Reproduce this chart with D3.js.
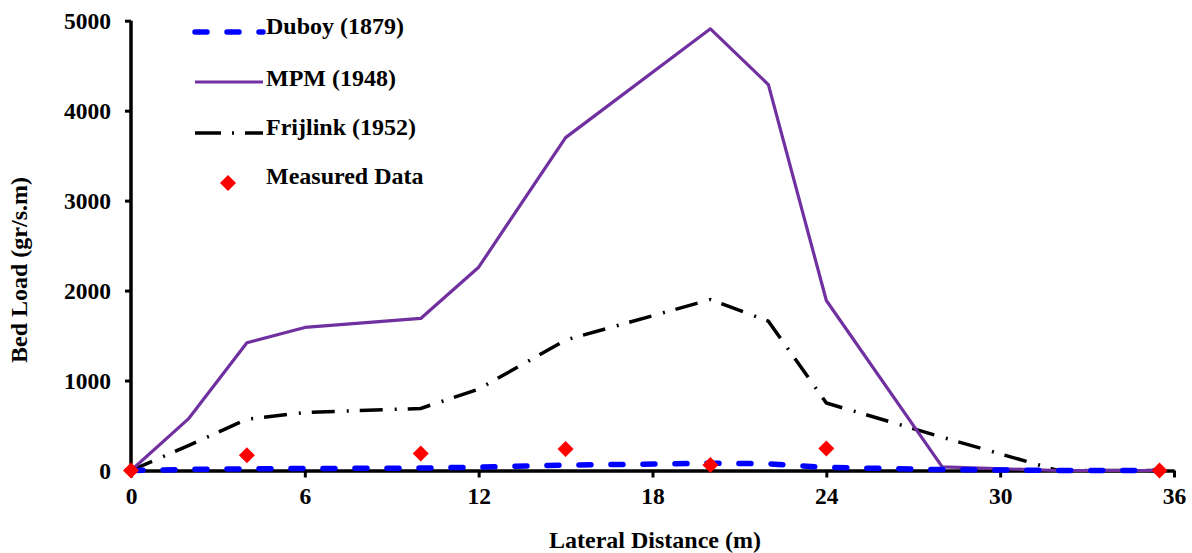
<!DOCTYPE html>
<html>
<head>
<meta charset="utf-8">
<script src="https://cdn.jsdelivr.net/npm/d3@7"></script>
<style>
  html, body { margin: 0; padding: 0; background: #fff; }
  svg { display: block; }
  text { font-family: "Liberation Serif", "Times New Roman", serif; font-weight: bold; fill: #000; }
</style>
</head>
<body>
<svg id="chart" width="1192" height="553"></svg>
<script>
// Lateral positions across the section (m)
const distance = [0, 2, 4, 6, 10, 12, 15, 20, 22, 24, 28, 32, 35.5];

// Computed bed load (gr/s.m) by each formula
const duboy    = [0, 12, 18, 22, 27, 37, 60, 80, 75, 35, 10, 0, 0];
const mpm      = [0, 580, 1420, 1590, 1690, 2260, 3700, 4910, 4290, 1890, 40, 0, 0];
const frijlink = [0, 280, 570, 645, 690, 905, 1450, 1900, 1660, 750, 370, 0, 0];

// Field measurements
const measuredX = [0, 4, 10, 15, 20, 24, 35.5];
const measuredY = [0, 170, 190, 240, 60, 245, 0];

// Axis ticks
const xTicks = [0, 6, 12, 18, 24, 30, 36];
const yTicks = [0, 1000, 2000, 3000, 4000, 5000];

const seriesNames = ["Duboy (1879)", "MPM (1948)", "Frijlink (1952)", "Measured Data"];

const svg = d3.select("#chart");
const x = d3.scaleLinear().domain([0, 36]).range([131, 1174]);
const y = d3.scaleLinear().domain([0, 5000]).range([470.5, 20.7]);

// Axes
const yAxis = svg.append("g")
  .attr("transform", `translate(${x(0)},0)`)
  .call(d3.axisLeft(y).tickValues(yTicks).tickFormat(d3.format("d"))
    .tickSizeInner(6).tickSizeOuter(0).tickPadding(14));
const xAxis = svg.append("g")
  .attr("transform", `translate(0,${y(0)})`)
  .call(d3.axisBottom(x).tickValues(xTicks).tickFormat(d3.format("d"))
    .tickSizeInner(7).tickSizeOuter(0).tickPadding(10));

[yAxis, xAxis].forEach(g => {
  g.select(".domain").attr("stroke", "#000").attr("stroke-width", 3.5);
  g.selectAll(".tick line").attr("stroke", "#000").attr("stroke-width", 3);
  g.selectAll(".tick text")
    .attr("font-family", "Liberation Serif, Times New Roman, serif")
    .attr("font-weight", "bold").attr("font-size", 23.5).attr("fill", "#000");
});
// y-axis line extended through the baseline corner
yAxis.select(".domain").attr("d", `M0,${y(5000)}V${y(0) + 2}`);

// Series lines
const line = vals => d3.line()
  .x((d, i) => x(distance[i]))
  .y(d => y(d))(vals);

svg.append("path").attr("d", line(frijlink))
  .attr("fill", "none").attr("stroke", "#000").attr("stroke-width", 3.5)
  .attr("stroke-dasharray", "23,12,2,11");

svg.append("path").attr("d", line(mpm))
  .attr("fill", "none").attr("stroke", "#7030A0").attr("stroke-width", 3.2)
  .attr("stroke-linejoin", "round");

svg.append("path").attr("d", line(duboy))
  .attr("fill", "none").attr("stroke", "#0000FF").attr("stroke-width", 5.5)
  .attr("stroke-linecap", "round").attr("stroke-dasharray", "12,20");

// Measured points as diamonds
const diamond = d3.symbol().type(d3.symbolSquare).size(128);
svg.append("g").selectAll("path")
  .data(measuredX.map((d, i) => [d, measuredY[i]]))
  .join("path")
  .attr("d", diamond)
  .attr("fill", "#FF0000")
  .attr("transform", d => `translate(${x(d[0])},${y(d[1])}) rotate(45)`);

// Axis titles
svg.append("text")
  .attr("x", 655).attr("y", 548)
  .attr("text-anchor", "middle").attr("font-size", 24)
  .text("Lateral Distance (m)");
svg.append("text")
  .attr("transform", "translate(27,270) rotate(-90)")
  .attr("text-anchor", "middle").attr("font-size", 24)
  .text("Bed Load (gr/s.m)");

// Legend
const legend = svg.append("g");
const legendRows = [32, 82, 133, 183];
const legendStyles = [
  { stroke: "#0000FF", width: 5.5, dash: "12,20", cap: "round" },
  { stroke: "#7030A0", width: 3.2, dash: null, cap: "butt" },
  { stroke: "#000", width: 3.5, dash: "26,11,2,11", cap: "butt" }
];
legendStyles.forEach((s, i) => {
  legend.append("line")
    .attr("x1", 195).attr("x2", 263)
    .attr("y1", legendRows[i]).attr("y2", legendRows[i])
    .attr("stroke", s.stroke).attr("stroke-width", s.width)
    .attr("stroke-dasharray", s.dash).attr("stroke-linecap", s.cap);
});
legend.append("path")
  .attr("d", diamond).attr("fill", "#FF0000")
  .attr("transform", `translate(228,${legendRows[3]}) rotate(45)`);
const legendBaselines = [34, 86, 135, 184];
seriesNames.forEach((name, i) => {
  legend.append("text")
    .attr("x", 266).attr("y", legendBaselines[i])
    .attr("font-size", 24)
    .text(name);
});
</script>
</body>
</html>
